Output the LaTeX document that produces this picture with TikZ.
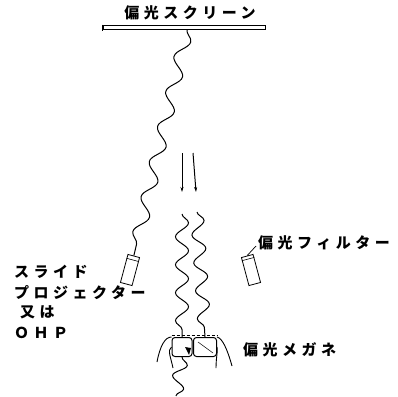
\documentclass[tikz,border=0pt]{standalone}
\usepackage{fontspec}
\newfontfamily\jp{Noto Sans CJK JP}[LetterSpace=30]
\usetikzlibrary{decorations.pathmorphing,arrows.meta,calc}

\begin{document}
\begin{tikzpicture}[
  x = 1pt, y = -1pt,
  txt/.style = {font = \jp\bfseries\fontsize{15}{15}\selectfont, inner sep = 0pt, anchor = west},
  wave/.style = {decorate, decoration = {snake, segment length = #1, amplitude = 6.5pt}, line width = 1pt},
  can/.style = {draw, line width = 0.8pt, minimum width = 12pt, minimum height = 29pt, inner sep = 0pt},
  lens/.style = {draw, line width = 1pt, rounded corners = 3pt, minimum height = 19pt, inner sep = 0pt},
  ]
  \useasboundingbox (0,0) rectangle (398,396);

  % screen at the top
  \node[txt, anchor = center] (title) at (190,13) {偏光スクリーン};
  \node[draw, line width = 0.9pt, minimum width = 162pt, minimum height = 4pt, inner sep = 0pt] (screen) at (184,27) {};
  \draw[line width = 0.8pt] (screen.north west) -- ++(0,6);

  % projector and filter
  \node[can, rotate = -15] (proj) at (130,270) {};
  \node[can, rotate = 15] (filt) at (251,270) {};
  \draw[line width = 0.6pt] ($(proj.north west)!0.15!(proj.south west)$) -- ($(proj.north east)!0.15!(proj.south east)$);
  \draw[line width = 0.6pt] ($(filt.north west)!0.12!(filt.south west)$) -- ($(filt.north east)!0.12!(filt.south east)$);

  % light from projector up to screen
  \draw[wave = 36pt] ([xshift = 3pt]screen.south) -- (proj.north);

  % reflected light coming down
  \coordinate (a1) at (182,153);
  \coordinate (a2) at (193,153);
  \coordinate (b1) at (182,192);
  \coordinate (b2) at (196,192);
  \draw[line width = 1pt, -{Stealth[length = 5pt, width = 3pt]}] (a1) -- (b1);
  \draw[line width = 1pt, -{Stealth[length = 5pt, width = 3pt]}] (a2) -- (b2);

  % glasses
  \node[lens, minimum width = 20pt] (lensL) at (182,347) {};
  \node[lens, minimum width = 23pt] (lensR) at (205,347) {};
  \fill ([xshift = 3pt]lensL.center) -- ([xshift = 9pt, yshift = -1pt]lensL.center)
        -- ([xshift = 7pt, yshift = -8pt]lensL.center) -- cycle;
  \draw[line width = 0.5pt] ([xshift = -7pt, yshift = 5pt]lensR.center) -- ([xshift = 8pt, yshift = -6pt]lensR.center);
  \draw[densely dashed, line width = 0.6pt] ([yshift = 2pt]lensL.north west) -- ([yshift = 2pt]lensR.north east);
  % temples
  \draw[line width = 0.9pt] (lensL.north west) .. controls (165,337) and (160,346) .. (157,362);
  \draw[line width = 0.9pt] (lensL.west) .. controls (167,350) and (171,358) .. (173,368);
  \draw[line width = 0.9pt] (lensR.north east) .. controls (222,338) and (227,348) .. (232,366);
  \draw[line width = 0.9pt] (lensR.east) .. controls (218,350) and (216,358) .. (216,368);

  % light through the glasses
  \coordinate (w1) at (182,214);
  \coordinate (w2) at (197,212);
  \coordinate (w3) at (176,396);
  \draw[wave = 28pt] (w1) -- (lensL.north);
  \draw[wave = 28pt] (w2) -- (lensR.north);
  \draw[wave = 24pt] (lensL.south) -- (w3);

  % labels
  \node[txt] (filtlab) at (258,243) {偏光フィルター};
  \draw[line width = 0.7pt] (filt.north) -- ([xshift = -2pt, yshift = -3pt]filtlab.west);
  \node[txt] (glasslab) at (243,350) {偏光メガネ};
  \node[txt] (proj1) at (14,272) {スライド};
  \node[txt] (proj2) at (14,293) {プロジェクター};
  \node[txt] (proj3) at (20,312) {又は};
  \node[txt] (proj4) at (14,333) {ＯＨＰ};
\end{tikzpicture}
\end{document}
